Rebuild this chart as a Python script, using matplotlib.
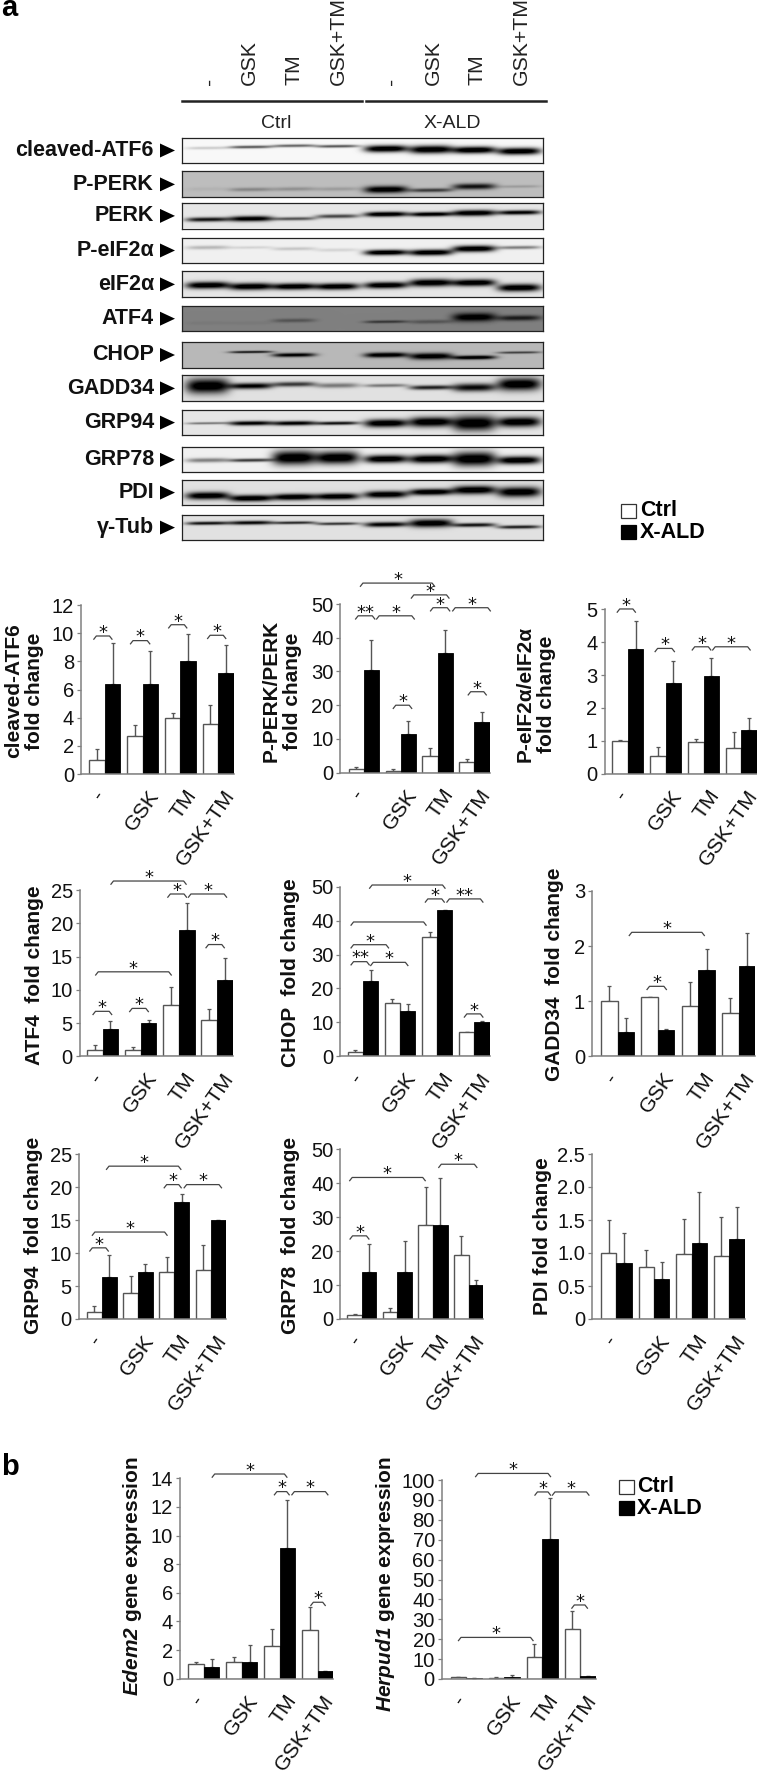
import numpy as np
import matplotlib
matplotlib.use("Agg")
import matplotlib.pyplot as plt
from matplotlib.patches import Rectangle, Polygon

plt.rcParams['font.family'] = ['Liberation Sans', 'DejaVu Sans']
plt.rcParams['mathtext.fontset'] = 'custom'
plt.rcParams['mathtext.bf'] = 'Liberation Sans:bold'
plt.rcParams['mathtext.bfit'] = 'Liberation Sans:italic:bold'
plt.rcParams['mathtext.rm'] = 'Liberation Sans'
plt.rcParams['mathtext.default'] = 'bf'

W, H = 757, 1771
GROUPS = ['-', 'GSK', 'TM', 'GSK+TM']

# ---------- bar data ----------
atf6_ctrl = [1, 2.7, 4, 3.55];        atf6_ctrl_top = [1.8, 3.45, 4.35, 4.9]
atf6_xald = [6.4, 6.4, 8, 7.2];       atf6_xald_top = [9.3, 8.75, 9.95, 9.15]
pperk_ctrl = [1.2, 0.6, 4.9, 3.2];    pperk_ctrl_top = [1.7, 1, 7.3, 4.1]
pperk_xald = [30.3, 11.5, 35.4, 14.9]; pperk_xald_top = [39.2, 15.3, 42.3, 18]
peif_ctrl = [1, 0.55, 0.97, 0.78];    peif_ctrl_top = [1.03, 0.82, 1.07, 1.27]
peif_xald = [3.8, 2.77, 2.97, 1.33];  peif_xald_top = [4.65, 3.42, 3.52, 1.7]
atf4_ctrl = [1, 1, 7.7, 5.5];         atf4_ctrl_top = [1.75, 1.4, 10.4, 7.1]
atf4_xald = [4.05, 5.05, 19, 11.4];   atf4_xald_top = [5.3, 5.5, 23, 14.8]
chop_ctrl = [1.2, 15.7, 35.3, 7.3];   chop_ctrl_top = [2, 16.9, 36.5, 7.3]
chop_xald = [22.2, 13.5, 43.2, 10];   chop_xald_top = [25.4, 15.5, 43.2, 10.3]
gadd_ctrl = [1, 1.08, 0.92, 0.78];    gadd_ctrl_top = [1.28, 1.08, 1.34, 1.06]
gadd_xald = [0.44, 0.47, 1.56, 1.63]; gadd_xald_top = [0.7, 0.5, 1.94, 2.24]
grp94_ctrl = [1, 4, 7.2, 7.5];        grp94_ctrl_top = [2, 6.6, 9.4, 11.3]
grp94_xald = [6.3, 7.2, 17.8, 15];    grp94_xald_top = [9.7, 8.4, 19, 15.05]
grp78_ctrl = [1.3, 2.2, 27.7, 18.8];  grp78_ctrl_top = [1.6, 3.3, 38.8, 24.5]
grp78_xald = [13.8, 13.8, 27.7, 10];  grp78_xald_top = [22, 23, 41.6, 11.5]
pdi_ctrl = [1, 0.79, 0.99, 0.96];     pdi_ctrl_top = [1.5, 1.04, 1.52, 1.55]
pdi_xald = [0.85, 0.61, 1.15, 1.21];  pdi_xald_top = [1.31, 0.87, 1.92, 1.69]
edem_ctrl = [1.05, 1.15, 2.25, 3.4];  edem_ctrl_top = [1.2, 1.5, 3.5, 5]
edem_xald = [0.8, 1.2, 9.15, 0.55];   edem_xald_top = [1.35, 2.35, 12.5, 0.55]
herp_ctrl = [0.8, 0.7, 11, 25];       herp_ctrl_top = [1.1, 0.9, 17.5, 34.3]
herp_xald = [0.5, 0.9, 70.5, 1.4];    herp_xald_top = [0.6, 1.8, 91, 1.5]

# significance brackets: x1, x2 (group units), y (data units), label
atf6_br = [(-.29, .19, 9.8, '*'), (.68, 1.19, 9.47, '*'), (1.69, 2.17, 10.6, '*'), (2.72, 3.2, 9.85, '*')]
pperk_br = [(-.09, 1.92, 56.2, '*'), (1.29, 2.31, 52.7, '*'), (1.81, 2.33, 48.9, '*'), (2.41, 3.43, 48.9, '*'),
            (-.22, .3, 46.5, '**'), (.35, 1.37, 46.5, '*'), (.8, 1.3, 20, '*'), (2.83, 3.32, 24, '*')]
peif_br = [(-.28, .2, 5.01, '*'), (.72, 1.23, 3.81, '*'), (1.7, 2.19, 3.86, '*'), (2.24, 3.23, 3.86, '*')]
atf4_br = [(.22, 2.19, 26.35, '*'), (1.71, 2.2, 24.4, '*'), (2.25, 3.25, 24.4, '*'), (2.71, 3.19, 16.8, '*'),
           (-.18, 1.8, 12.7, '*'), (-.25, .24, 6.76, '*'), (.71, 1.2, 7.2, '*')]
chop_br = [(.18, 2.21, 50.5, '*'), (1.68, 2.19, 46.4, '*'), (2.26, 3.23, 46.4, '**'), (-.32, 1.7, 39.6, ''),
           (-.32, .69, 32.9, '*'), (-.32, .17, 27.9, '**'), (.21, 1.21, 27.7, '*'), (2.73, 3.23, 12.5, '*')]
gadd_br = [(.29, 2.15, 2.25, '*'), (.73, 1.21, 1.27, '*')]
grp94_br = [(.13, 2.18, 23.2, '*'), (1.72, 2.19, 20.4, '*'), (2.27, 3.3, 20.4, '*'), (-.26, 1.8, 13.2, '*'), (-.33, .18, 10.8, '*')]
grp78_br = [(2.16, 3.23, 45.6, '*'), (-.34, 1.78, 41.7, '*'), (-.33, .2, 24.5, '*')]
edem_br = [(.22, 2.19, 14.3, '*'), (1.86, 2.25, 13.07, '*'), (2.32, 3.27, 13.07, '*'), (2.82, 3.2, 5.34, '*')]
herp_br = [(.25, 2.22, 103.3, '*'), (1.81, 2.22, 94, '*'), (2.27, 3.23, 94, '*'), (2.78, 3.19, 37.2, '*'), (-.2, 1.76, 20.9, '*')]

# ---------- blot data: name, background, band strength, band centre, band thickness ----------
blot_names = ['cleaved-ATF6', 'P-PERK', 'PERK', 'P-eIF2α', 'eIF2α', 'ATF4', 'CHOP', 'GADD34', 'GRP94', 'GRP78', 'PDI', 'γ-Tub']
blot_tops = [137.5, 171.4, 202.9, 237.5, 271.4, 305.7, 342, 375.4, 409.6, 446.8, 479.6, 514.6]
blot_bg = [.97, .74, .90, .94, .90, .50, .72, .88, .90, .94, .88, .88]
blot_strength = [
    [.15, .55, .5, .55, 1, 1, 1, 1],
    [.05, .25, .2, .15, 1, .6, .8, .15],
    [.8, .95, .55, .6, 1, .95, 1, .9],
    [.2, .1, .15, .1, 1, 1, 1, .4],
    [1, 1, 1, 1, 1, 1, 1, 1],
    [.05, .05, .3, 0, .5, .3, 1, .7],
    [0, .75, .9, 0, 1, 1, 1, .55],
    [1, .9, .65, .4, .4, .75, .85, 1],
    [.4, .9, .9, .8, 1, 1, 1, 1],
    [.4, .65, 1, 1, 1, 1, 1, 1],
    [1, 1, 1, 1, 1, 1, 1, 1],
    [.8, .85, .7, .65, .9, 1, .8, .75],
]
blot_centre = [
    [.42, .38, .33, .35, .45, .48, .5, .55],
    [.7, .72, .7, .7, .72, .75, .6, .6],
    [.68, .65, .65, .55, .47, .47, .42, .4],
    [.4, .4, .45, .5, .6, .6, .45, .4],
    [.55, .6, .6, .6, .55, .45, .45, .65],
    [.7, .7, .6, .7, .65, .65, .47, .5],
    [.4, .38, .5, .5, .5, .55, .6, .4],
    [.42, .42, .35, .4, .4, .48, .48, .35],
    [.55, .55, .55, .55, .55, .5, .55, .5],
    [.55, .55, .45, .45, .5, .5, .5, .55],
    [.65, .75, .7, .68, .6, .5, .42, .5],
    [.35, .33, .33, .37, .4, .35, .42, .5],
]
blot_thick = [
    [.06, .06, .06, .06, .14, .16, .14, .14],
    [.08, .08, .08, .08, .14, .08, .12, .06],
    [.09, .11, .07, .08, .1, .09, .12, .09],
    [.08, .06, .07, .07, .11, .12, .13, .07],
    [.14, .14, .13, .13, .13, .15, .14, .15],
    [.08, .08, .08, .08, .06, .08, .17, .11],
    [.05, .05, .08, .05, .1, .13, .08, .05],
    [.3, .12, .1, .1, .07, .09, .16, .25],
    [.05, .09, .09, .07, .16, .2, .3, .2],
    [.09, .07, .28, .25, .16, .17, .28, .16],
    [.15, .13, .13, .13, .14, .13, .17, .2],
    [.07, .08, .06, .06, .1, .16, .08, .07],
]
lane_pos = [.07, .19, .31, .43, .565, .69, .81, .935]


def band_image(bg, strength, centre, thick, nx=361, ny=26):
    img = np.full((ny, nx), float(bg))
    xs = np.linspace(0, 1, nx)[None, :]
    ys = np.linspace(0, 1, ny)[:, None]
    for p, s, c, t in zip(lane_pos, strength, centre, thick):
        tilt = (xs - p) * .15
        prof_x = np.exp(-np.abs((xs - p) / .06) ** 4)
        prof_y = np.exp(-((ys - c + tilt) / t) ** 2)
        img -= s * 1.15 * bg * prof_x * prof_y
    return np.clip(img, 0, 1)


def fa(l, t, r, b, **kw):
    return fig.add_axes([l / W, 1 - b / H, (r - l) / W, (b - t) / H], **kw)


def ftext(x, y, s, **kw):
    return fig.text(x / W, 1 - y / H, s, **kw)


fig = plt.figure(figsize=(W / 100, H / 100), dpi=100, facecolor='white')
over = fa(0, 0, W, H)
over.set_xlim(0, W); over.set_ylim(H, 0); over.axis('off')

# ---------- panel a: header ----------
ftext(1, 16, 'a', fontsize=21, fontweight='bold', ha='left', va='baseline')
ftext(1, 1475, 'b', fontsize=21, fontweight='bold', ha='left', va='baseline')
for x, s in zip([209, 249, 294, 338.5, 391, 433, 477, 521.5], GROUPS * 2):
    ftext(x, 85, s, rotation=90, fontsize=15.3, ha='center', va='bottom', color='#222222')
over.plot([182, 362], [100.7, 100.7], color='#222222', lw=1.8)
over.plot([366, 546], [100.7, 100.7], color='#222222', lw=1.8)
ftext(276, 123, 'Ctrl', fontsize=14, ha='center', va='center', color='#222222')
ftext(452, 123, 'X-ALD', fontsize=14, ha='center', va='center', color='#222222')

# ---------- blots ----------
for name, top, bg, st, ce, th in zip(blot_names, blot_tops, blot_bg, blot_strength, blot_centre, blot_thick):
    ab = fa(182, top, 543, top + 25.6)
    ab.imshow(band_image(bg, st, ce, th), cmap='gray', vmin=0, vmax=1, aspect='auto', interpolation='bilinear')
    ab.set_xticks([]); ab.set_yticks([])
    for s in ab.spines.values():
        s.set_linewidth(.9); s.set_color('#222222')
    cy = top + 13
    ftext(154, cy, name, fontsize=15.5, fontweight='bold', ha='right', va='center', color='#111111')
    over.add_patch(Polygon([(160, cy - 7), (160, cy + 7), (175, cy)], closed=True, color='black', lw=0))


def legend(xb, xt, y1, y2, h):
    over.add_patch(Rectangle((xb, y1 - h / 2), 15, h, fc='white', ec='#333333', lw=.9))
    over.add_patch(Rectangle((xb, y2 - h / 2), 15, h, fc='black', ec='black', lw=.9))
    ftext(xt, y1, 'Ctrl', fontsize=15.5, fontweight='bold', ha='left', va='center')
    ftext(xt, y2, 'X-ALD', fontsize=15.5, fontweight='bold', ha='left', va='center')


legend(621, 640, 511, 532, 14)
legend(619, 637, 1487, 1508, 14)


def bar_panel(box, ymax, ticks, ctrl, ctrl_top, xald, xald_top, brackets, ticklabels=None):
    left, start, end, y0, ytop = box
    p = (end - start) / 3.82
    c0 = start + .41 * p
    ax = fa(left, ytop, end, y0)
    ax.patch.set_alpha(0)
    g = np.arange(4)
    ctrl, xald = np.array(ctrl, float), np.array(xald, float)
    ectl = np.array(ctrl_top) - ctrl
    exal = np.array(xald_top) - xald
    ekw = dict(fmt='none', ecolor='#555555', elinewidth=1, capsize=1.6, capthick=.9, zorder=1)
    ax.errorbar(g - .205, ctrl, yerr=[np.zeros(4), ectl], **ekw)
    ax.errorbar(g + .205, xald, yerr=[np.zeros(4), exal], **ekw)
    ax.bar(g - .205, ctrl, .41, fc='white', ec='#555555', lw=1, zorder=2)
    ax.bar(g + .205, xald, .41, fc='black', ec='black', lw=.6, zorder=2)
    ax.set_xlim((left - c0) / p, (end - c0) / p)
    ax.set_ylim(0, ymax)
    for s in ('top', 'right'):
        ax.spines[s].set_visible(False)
    for s in ('left', 'bottom'):
        ax.spines[s].set_color('#808080'); ax.spines[s].set_linewidth(1.1)
    ax.set_xticks([])
    ax.set_yticks(ticks)
    ax.set_yticklabels(ticklabels if ticklabels else [str(t) for t in ticks], fontsize=14.5, color='#111111')
    ax.tick_params(axis='y', length=3, width=.9, color='#808080', pad=2)
    for gi, lab in zip(g, GROUPS):
        dx = -3 if lab == '-' else 9
        ax.annotate(lab, xy=(gi, 0), xycoords=('data', 'axes fraction'), xytext=(dx, -13),
                    textcoords='offset points', rotation=55, rotation_mode='anchor',
                    ha='right', va='center', fontsize=15.3, color='#111111', annotation_clip=False)
    d = 3.2 * ymax / (y0 - ytop)
    for x1, x2, y, s in brackets:
        dx = 2.5 / p
        ax.plot([x1, x1 + dx, x2 - dx, x2], [y - d, y, y, y - d], color='#444444', lw=.9,
                clip_on=False, zorder=3)
        if s:
            ax.text((x1 + x2) / 2, y + d * 1.0, s, fontsize=13, ha='center', va='center',
                    clip_on=False, color='#111111', family='DejaVu Sans')
    return ax


bar_panel((81, 89.3, 233.7, 774, 605), 12, [0, 2, 4, 6, 8, 10, 12], atf6_ctrl, atf6_ctrl_top, atf6_xald, atf6_xald_top, atf6_br)
bar_panel((340.4, 348.6, 489.6, 772.7, 604), 50, [0, 10, 20, 30, 40, 50], pperk_ctrl, pperk_ctrl_top, pperk_xald, pperk_xald_top, pperk_br)
bar_panel((604.5, 612.3, 757, 773.7, 609.3), 5, [0, 1, 2, 3, 4, 5], peif_ctrl, peif_ctrl_top, peif_xald, peif_xald_top, peif_br)
bar_panel((79.7, 86.9, 232.7, 1056.3, 890), 25, [0, 5, 10, 15, 20, 25], atf4_ctrl, atf4_ctrl_top, atf4_xald, atf4_xald_top, atf4_br)
bar_panel((340.4, 347.7, 489.6, 1056.3, 886.7), 50, [0, 10, 20, 30, 40, 50], chop_ctrl, chop_ctrl_top, chop_xald, chop_xald_top, chop_br)
bar_panel((592, 601, 755.2, 1056.3, 891), 3, [0, 1, 2, 3], gadd_ctrl, gadd_ctrl_top, gadd_xald, gadd_xald_top, gadd_br)
bar_panel((78.7, 86.9, 225.5, 1319, 1154.3), 25, [0, 5, 10, 15, 20, 25], grp94_ctrl, grp94_ctrl_top, grp94_xald, grp94_xald_top, grp94_br)
bar_panel((340.4, 347.2, 483.3, 1319, 1149.3), 50, [0, 10, 20, 30, 40, 50], grp78_ctrl, grp78_ctrl_top, grp78_xald, grp78_xald_top, grp78_br)
bar_panel((592, 601, 744.6, 1319, 1154), 2.5, [0, .5, 1, 1.5, 2, 2.5], pdi_ctrl, pdi_ctrl_top, pdi_xald, pdi_xald_top, [],
          ticklabels=['0', '0.5', '1.0', '1.5', '2.0', '2.5'])
bar_panel((180, 188.3, 333.2, 1678.7, 1478.3), 14, [0, 2, 4, 6, 8, 10, 12, 14], edem_ctrl, edem_ctrl_top, edem_xald, edem_xald_top, edem_br)
bar_panel((441.8, 450.5, 595.8, 1679, 1480), 100, list(range(0, 101, 10)), herp_ctrl, herp_ctrl_top, herp_xald, herp_xald_top, herp_br)

# y labels
ylabels = [
    (24, 691, 'cleaved-ATF6\nfold change'),
    (282, 691, 'P-PERK/PERK\nfold change'),
    (536, 694, 'P-eIF2α/eIF2α\nfold change'),
    (35, 975, 'ATF4  fold change'),
    (291, 973, 'CHOP  fold change'),
    (555, 974, 'GADD34  fold change'),
    (34, 1235, 'GRP94  fold change'),
    (291, 1235, 'GRP78  fold change'),
    (542, 1236, 'PDI fold change'),
    (133, 1576, r'$\mathbfit{Edem2}$ gene expression'),
    (386, 1584, r'$\mathbfit{Herpud1}$ gene expression'),
]
for x, y, s in ylabels:
    ftext(x, y, s, rotation=90, fontsize=15, fontweight='bold', ha='center', va='center',
          multialignment='center', linespacing=1.15, color='#111111')

fig.savefig('out.png', dpi=100, facecolor='white')
